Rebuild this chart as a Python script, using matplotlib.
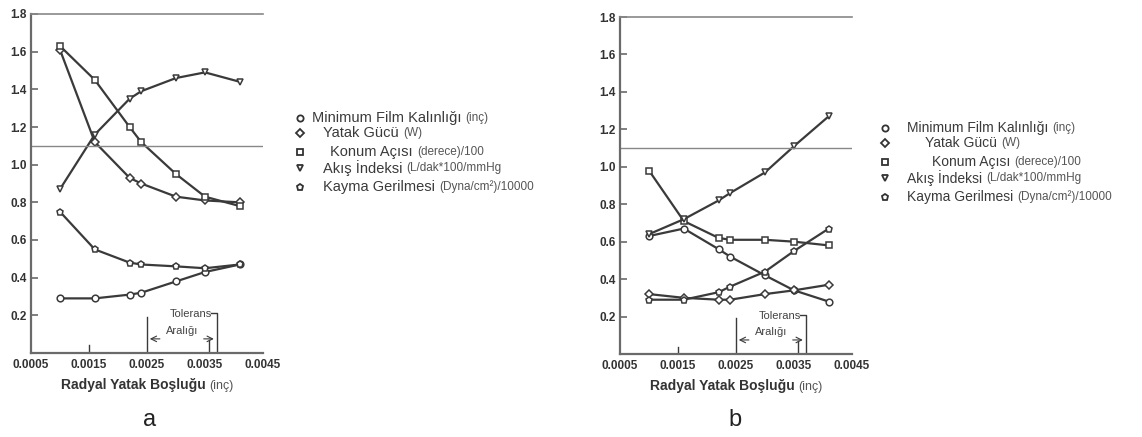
import numpy as np
import matplotlib
matplotlib.use("Agg")
import matplotlib.pyplot as plt
from matplotlib.lines import Line2D

plt.rcParams['font.family'] = ['Liberation Sans', 'DejaVu Sans']

# radial clearance (inch)
x_a = [0.0010, 0.0016, 0.0022, 0.0024, 0.0030, 0.0035, 0.0041]
x_b = [0.0010, 0.0016, 0.0022, 0.0024, 0.0030, 0.0035, 0.0041]

# chart a
a_film = [0.29, 0.29, 0.31, 0.32, 0.38, 0.43, 0.47]
a_guc = [1.61, 1.12, 0.93, 0.90, 0.83, 0.81, 0.80]
a_konum = [1.63, 1.45, 1.20, 1.12, 0.95, 0.83, 0.78]
a_akis = [0.87, 1.16, 1.35, 1.39, 1.46, 1.49, 1.44]
a_kayma = [0.75, 0.55, 0.48, 0.47, 0.46, 0.45, 0.47]

# chart b
b_film = [0.63, 0.67, 0.56, 0.52, 0.42, 0.34, 0.28]
b_guc = [0.32, 0.30, 0.29, 0.29, 0.32, 0.34, 0.37]
b_konum = [0.98, 0.71, 0.62, 0.61, 0.61, 0.60, 0.58]
b_akis = [0.64, 0.72, 0.82, 0.86, 0.97, 1.11, 1.27]
b_kayma = [0.29, 0.29, 0.33, 0.36, 0.44, 0.55, 0.67]

x_ticks = [0.0005, 0.0015, 0.0025, 0.0035, 0.0045]
x_ticklabels = ['0.0005', '0.0015', '0.0025', '0.0035', '0.0045']
y_ticks = [0.2, 0.4, 0.6, 0.8, 1.0, 1.2, 1.4, 1.6, 1.8]

leg_main = ['Minimum Film Kalınlığı', 'Yatak Gücü', 'Konum Açısı', 'Akış İndeksi', 'Kayma Gerilmesi']
leg_unit = ['(inç)', '(W)', '(derece)/100', '(L/dak*100/mmHg', '(Dyna/cm²)/10000']
markers = ['o', 'D', 's', 'v', 'p']

W, H = 1142, 437
fig = plt.figure(figsize=(W / 100, H / 100), dpi=100)
fig.patch.set_facecolor('white')

lc = '#3a3a3a'
sc = '#6a6a6a'


def px(x0, y0, x1, y1):
    return [x0 / W, 1 - y1 / H, (x1 - x0) / W, (y1 - y0) / H]


def panel(rect, xs, series, tol, tag, tag_x):
    ax = fig.add_axes(rect)
    for ys, m in series:
        ms = 4.8 if m != 'D' else 4.0
        ax.plot(xs, ys, color=lc, lw=1.6, marker=m, ms=ms, mfc='white', mec=lc, mew=1.1)
    ax.axhline(1.1, color='#888888', lw=1.0)
    ax.set_xlim(0.0005, 0.0045)
    ax.set_ylim(0, 1.8)
    ax.set_xticks(x_ticks)
    ax.set_xticklabels(x_ticklabels)
    ax.set_yticks(y_ticks)
    ax.set_yticklabels(['%.1f' % v for v in y_ticks])
    ax.tick_params(axis='y', direction='in', length=5, width=1.2, color=sc, labelsize=8.5,
                   labelcolor='#333333', pad=3)
    ax.tick_params(axis='x', length=0, labelsize=8.5, labelcolor='#333333', pad=4)
    for t in ax.get_xticklabels() + ax.get_yticklabels():
        t.set_fontweight('bold')
    ax.spines['right'].set_visible(False)
    ax.spines['left'].set_color(sc)
    ax.spines['left'].set_linewidth(1.6)
    ax.spines['bottom'].set_color(sc)
    ax.spines['bottom'].set_linewidth(1.6)
    ax.spines['top'].set_color('#888888')
    ax.spines['top'].set_linewidth(1.2)

    # tolerance marks
    t0, t1 = tol
    ax.plot([t0, t0], [0, 0.19], color=lc, lw=1.0)
    ax.plot([t1 - 0.0001, t1, t1], [0.21, 0.21, 0], color=lc, lw=1.0)
    ax.plot([0.0015, 0.0015], [0, 0.04], color=lc, lw=1.0)
    ax.plot([t1 - 0.00013, t1 - 0.00013], [0, 0.07], color=lc, lw=1.0)
    ax.annotate('', xy=(t0, 0.075), xytext=(t0 + 0.00027, 0.075),
                arrowprops=dict(arrowstyle='->', color=lc, lw=0.8))
    ax.annotate('', xy=(t1, 0.075), xytext=(t1 - 0.00027, 0.075),
                arrowprops=dict(arrowstyle='->', color=lc, lw=0.8))
    ax.text(t1 - 0.00045, 0.205, 'Tolerans', fontsize=8, color='#444444', ha='center', va='center')
    ax.text(t1 - 0.0006, 0.115, 'Aralığı', fontsize=8, color='#444444', ha='center', va='center')

    # x label, bold with lighter unit
    lab = ax.text(0.45, -0.075, 'Radyal Yatak Boşluğu ', transform=ax.transAxes, fontsize=10,
                  fontweight='bold', color='#333333', ha='center', va='top')
    ax.annotate('(inç)', xy=(1, 0), xycoords=lab, fontsize=9, color='#555555', ha='left', va='bottom')
    fig.text(tag_x / W, 1 - 420 / H, tag, fontsize=17, color='#222222', ha='center', va='center')
    return ax


panel(px(31, 14, 263, 353), x_a,
      [(a_film, 'o'), (a_guc, 'D'), (a_konum, 's'), (a_akis, 'v'), (a_kayma, 'p')],
      (0.0025, 0.0037), 'a', 150)
panel(px(620, 17, 852, 354), x_b,
      [(b_film, 'o'), (b_guc, 'D'), (b_konum, 's'), (b_akis, 'v'), (b_kayma, 'p')],
      (0.0025, 0.0037), 'b', 735)


def legend(mx, rows, text_x, fs, ufs):
    for i, (main, unit, m) in enumerate(zip(leg_main, leg_unit, markers)):
        y = 1 - rows[i] / H
        fig.add_artist(Line2D([mx / W], [y], marker=m, ms=4.5 if m != 'D' else 4, mfc='white',
                              mec='#333333', mew=1.3, transform=fig.transFigure))
        t = fig.text(text_x[i] / W, y, main + ' ', fontsize=fs, color='#3a3a3a', va='center')
        plt.annotate(unit, xy=(1, 0.5), xycoords=t, fontsize=ufs, color='#555555',
                     ha='left', va='center', annotation_clip=False)


legend(300, [118, 133, 152, 168, 187], [312, 323, 330, 323, 323], 10.5, 8.5)
legend(885, [128, 143, 162, 178, 197], [907, 925, 932, 907, 907], 10, 8.5)

fig.savefig('out.png', dpi=100, facecolor='white')
